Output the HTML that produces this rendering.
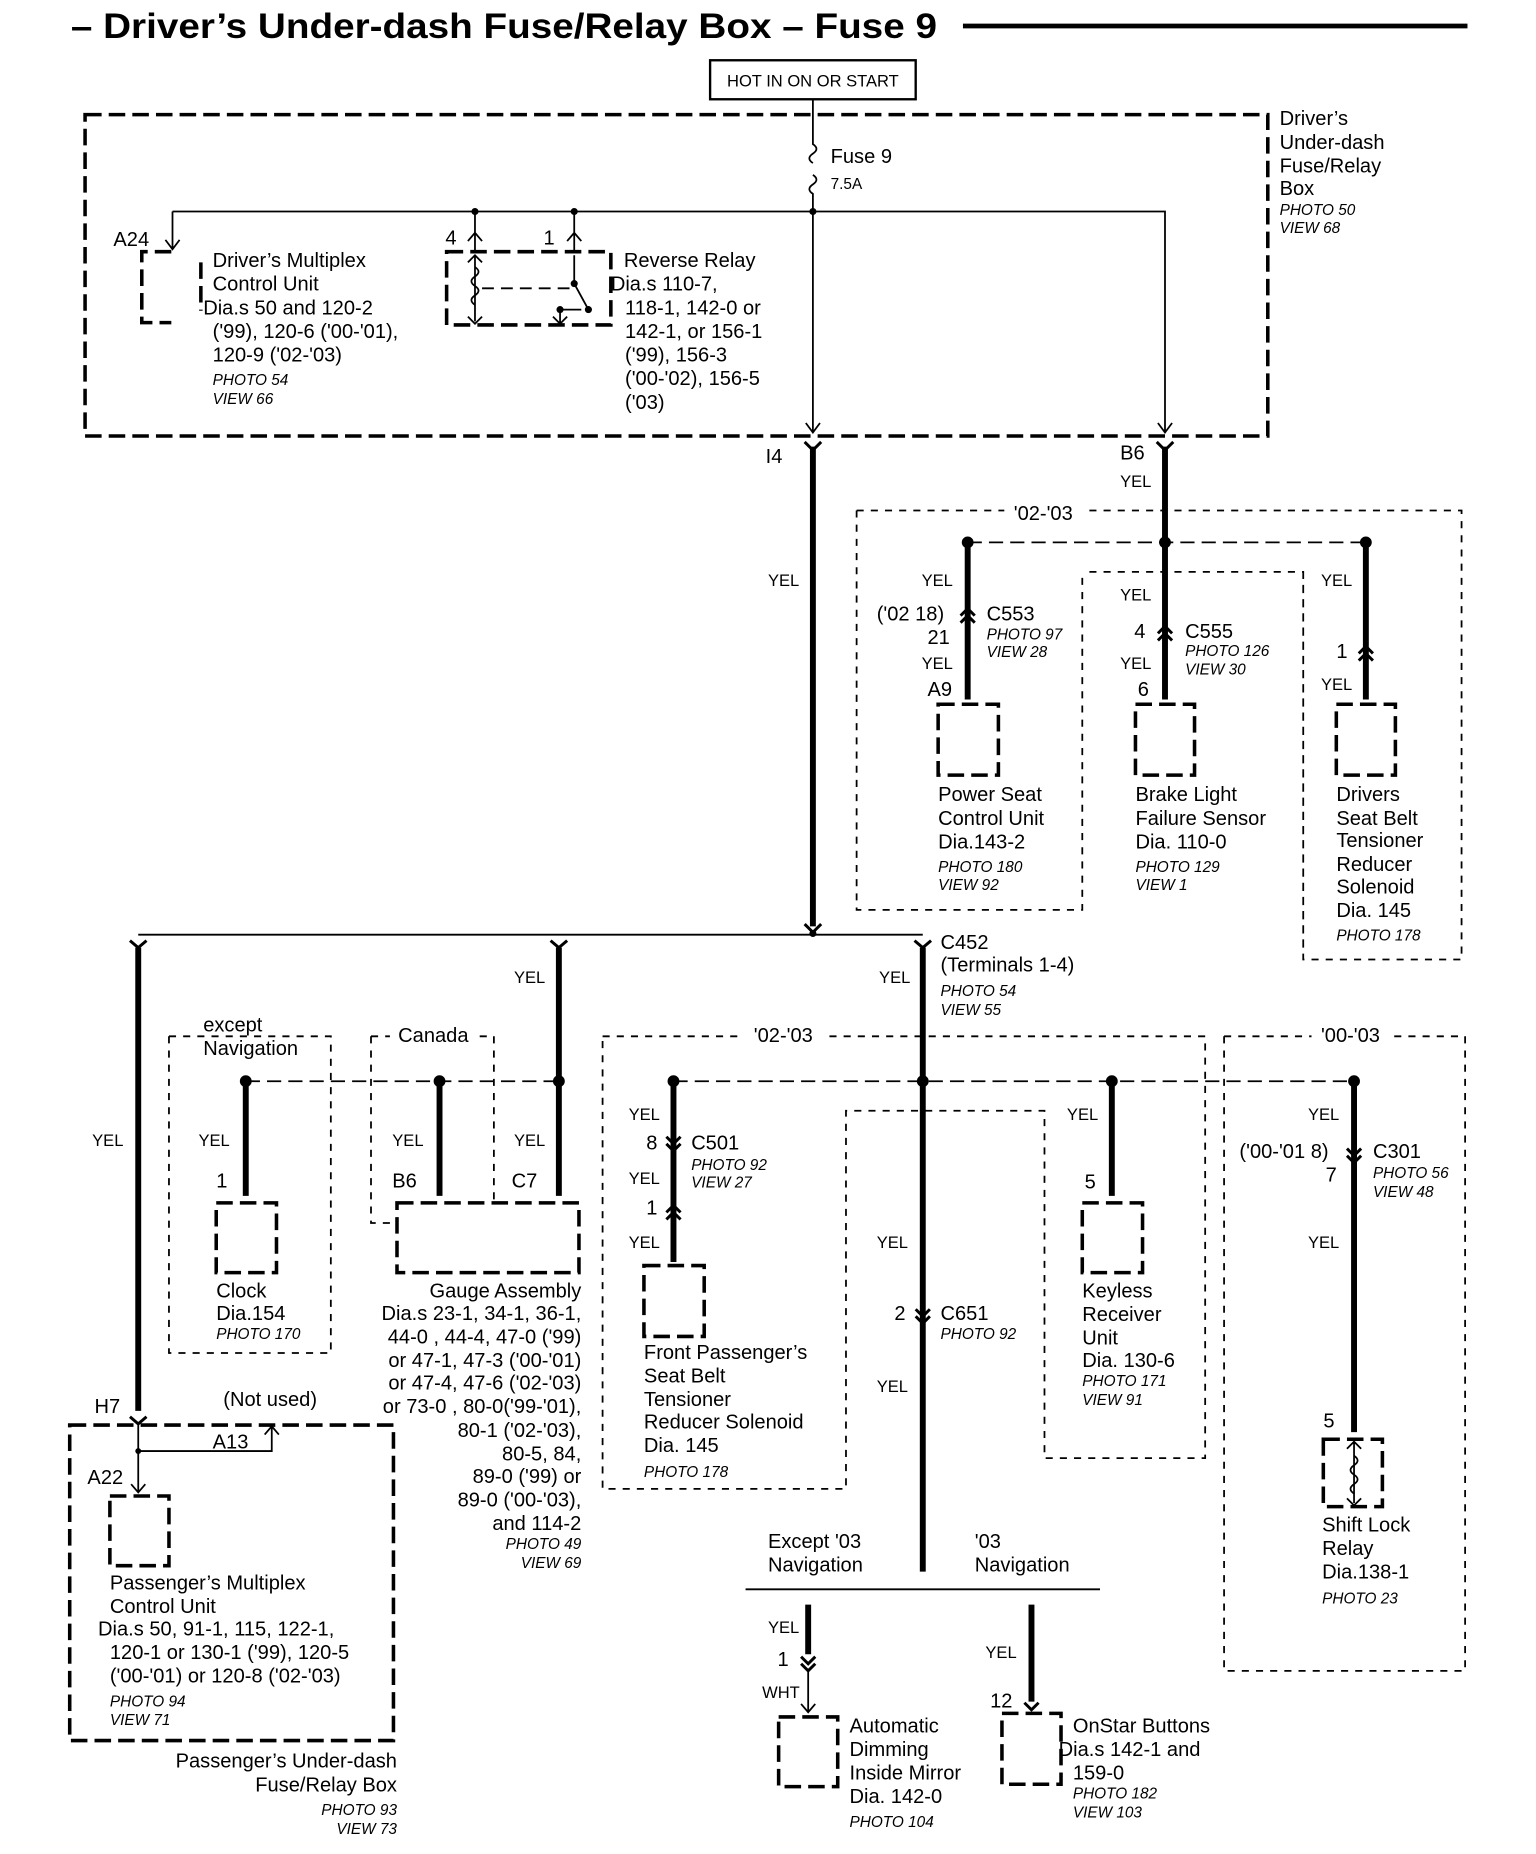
<!DOCTYPE html>
<html><head><meta charset="utf-8"><style>
html,body{margin:0;padding:0;background:#fff;width:1536px;height:1854px;overflow:hidden}
svg{display:block}
text{font-family:"Liberation Sans",sans-serif;font-size:17px;fill:#000}
.i{font-style:italic;font-size:13px}
.s{font-size:14px}
.b{fill:none;stroke:#000;stroke-width:3;stroke-dasharray:14,6}
.d{fill:none;stroke:#000;stroke-width:1.5;stroke-dasharray:6,6}
.dl{fill:none;stroke:#000;stroke-width:1.5;stroke-dasharray:12,6}
.w{stroke:#000;stroke-width:5;fill:none}
.t{stroke:#000;stroke-width:1.5;fill:none}
.c{stroke:#000;stroke-width:2.5;fill:none}
</style></head><body>
<svg width="1536" height="1854" viewBox="0 0 1300 1569" preserveAspectRatio="none" xmlns="http://www.w3.org/2000/svg">
<text x="60" y="32" textLength="733" lengthAdjust="spacingAndGlyphs" style="font-size:30px;font-weight:bold">– Driver’s Under-dash Fuse/Relay Box – Fuse 9</text>
<line x1="815" y1="22" x2="1242" y2="22" stroke="#000" stroke-width="4"/>
<rect x="601" y="51" width="174" height="33" fill="none" stroke="#000" stroke-width="2"/>
<text x="688" y="73" class="s" text-anchor="middle">HOT IN ON OR START</text>
<rect x="72" y="97" width="1001" height="272" class="b"/>
<path class="t" d="M688 84V122 q6 4 0 8 q-6 4 0 8 M688 148 q6 4 0 8 q-6 4 0 8 V365 M682 358 L688 366 L694 358"/>
<text x="703" y="138">Fuse 9</text><text x="703" y="160" class="i" style="font-style:normal">7.5A</text>
<path class="t" d="M146 179H986V365 M980 358 L986 366 L992 358 M146 179V210 M140 203 L146 211 L152 203 M402 179V212 M486 179V212 M396 204L402 197L408 204 M480 204L486 197L492 204"/>
<circle cx="402" cy="179" r="3"/><circle cx="486" cy="179" r="3"/><circle cx="688" cy="179" r="3"/>
<path class="b" d="M145 213H120V273H145 M170 222V263"/>
<rect x="378" y="213" width="139" height="62" class="b"/>
<path class="t" d="M402 216V272 M396 222L402 216L408 222 M396 268L402 274L408 268 M486 216V240 L498 262 M474 262H492 M474 262V274 M468 268L474 274L480 268"/>
<path class="t" d="M402 226 q6 4 0 8 q-6 4 0 8 q6 4 0 8 q-6 4 0 8"/>
<path class="t" d="M408 244H486" stroke-dasharray="10,6"/>
<circle cx="486" cy="240" r="3"/><circle cx="498" cy="262" r="3"/><circle cx="474" cy="262" r="3"/>
<text x="96" y="208">A24</text><text x="377" y="207">4</text><text x="460" y="207">1</text>
<text x="180" y="226">Driver’s Multiplex</text><text x="180" y="246">Control Unit</text><text x="172" y="266">Dia.s 50  and 120-2</text><text x="180" y="286">('99), 120-6 ('00-'01),</text><text x="180" y="306">120-9 ('02-'03)</text>
<text x="180" y="326" class="i">PHOTO 54</text><text x="180" y="342" class="i">VIEW 66</text>
<text x="528" y="226">Reverse Relay</text><text x="517" y="246">Dia.s 110-7,</text><text x="529" y="266">118-1, 142-0 or</text><text x="529" y="286">142-1, or 156-1</text><text x="529" y="306">('99), 156-3</text><text x="529" y="326">('00-'02), 156-5</text><text x="529" y="346">('03)</text>
<text x="1083" y="106">Driver’s</text><text x="1083" y="126">Under-dash</text><text x="1083" y="146">Fuse/Relay</text><text x="1083" y="165">Box</text>
<text x="1083" y="182" class="i">PHOTO 50</text><text x="1083" y="197" class="i">VIEW 68</text>
<path class="w" d="M688 378V784 M986 378V459"/>
<path class="c" d="M681 374L688 381L695 374 M979 374L986 381L993 374"/>
<text x="648" y="392">I4</text><text x="948" y="389">B6</text><text x="948" y="412" class="s">YEL</text>
<text x="650" y="496" class="s">YEL</text>
<path class="d" d="M725 432H850 M922 432H1237V812H1103V484H916 M725 432V770H916V484 M1103 484V812"/>
<text x="858" y="440">'02-'03</text>
<path class="dl" d="M819 459H1156"/>
<circle cx="819" cy="459" r="5"/><circle cx="986" cy="459" r="5"/><circle cx="1156" cy="459" r="5"/>
<path class="w" d="M819 459V592 M986 459V592 M1156 459V592"/>
<path class="c" d="M813 521L819 515L825 521 M813 527L819 521L825 527 M980 536L986 530L992 536 M980 542L986 536L992 542 M1150 553L1156 547L1162 553 M1150 559L1156 553L1162 559"/>
<rect x="794" y="596" width="51" height="60" class="b"/><rect x="961" y="596" width="50" height="60" class="b"/><rect x="1131" y="596" width="50" height="60" class="b"/>
<text x="780" y="496" class="s">YEL</text><text x="742" y="525">('02 18)</text><text x="785" y="545">21</text><text x="780" y="566" class="s">YEL</text><text x="785" y="589">A9</text>
<text x="835" y="525">C553</text><text x="835" y="541" class="i">PHOTO 97</text><text x="835" y="556" class="i">VIEW 28</text>
<text x="794" y="678">Power Seat</text><text x="794" y="698">Control Unit</text><text x="794" y="718">Dia.143-2</text><text x="794" y="738" class="i">PHOTO 180</text><text x="794" y="753" class="i">VIEW 92</text>
<text x="948" y="508" class="s">YEL</text><text x="960" y="540">4</text><text x="1003" y="540">C555</text><text x="1003" y="555" class="i">PHOTO 126</text><text x="1003" y="571" class="i">VIEW 30</text><text x="948" y="566" class="s">YEL</text><text x="963" y="589">6</text>
<text x="961" y="678">Brake Light</text><text x="961" y="698">Failure Sensor</text><text x="961" y="718">Dia. 110-0</text><text x="961" y="738" class="i">PHOTO 129</text><text x="961" y="753" class="i">VIEW 1</text>
<text x="1118" y="496" class="s">YEL</text><text x="1131" y="557">1</text><text x="1118" y="584" class="s">YEL</text>
<text x="1131" y="678">Drivers</text><text x="1131" y="698">Seat Belt</text><text x="1131" y="717">Tensioner</text><text x="1131" y="737">Reducer</text><text x="1131" y="756">Solenoid</text><text x="1131" y="776">Dia. 145</text><text x="1131" y="796" class="i">PHOTO 178</text>
<path class="t" d="M117 791H781"/>
<circle cx="688" cy="790" r="3"/>
<path class="c" d="M681 782L688 789L695 782 M110 796L117 802L124 796 M466 796L473 802L480 796 M774 796L781 802L788 796"/>
<path class="w" d="M117 802V1194 M473 802V1012 M781 802V1330"/>
<text x="796" y="803">C452</text><text x="796" y="822">(Terminals 1-4)</text><text x="796" y="843" class="i">PHOTO 54</text><text x="796" y="859" class="i">VIEW 55</text>
<text x="744" y="832" class="s">YEL</text><text x="435" y="832" class="s">YEL</text><text x="78" y="970" class="s">YEL</text>
<path class="d" d="M143 877H280V1145H143V877 M314 877H330 M406 877H418V1018 M314 877V1035H336"/>
<text x="172" y="873">except</text><text x="172" y="893">Navigation</text><text x="337" y="882">Canada</text>
<path class="dl" d="M208 915H473"/>
<circle cx="208" cy="915" r="5"/><circle cx="372" cy="915" r="5"/><circle cx="473" cy="915" r="5"/>
<path class="w" d="M208 915V1012 M372 915V1012"/>
<rect x="183" y="1018" width="51" height="59" class="b"/><rect x="336" y="1018" width="154" height="59" class="b"/>
<text x="168" y="970" class="s">YEL</text><text x="183" y="1005">1</text><text x="332" y="970" class="s">YEL</text><text x="332" y="1005">B6</text><text x="435" y="970" class="s">YEL</text><text x="433" y="1005">C7</text>
<text x="183" y="1098">Clock</text><text x="183" y="1117">Dia.154</text><text x="183" y="1133" class="i">PHOTO 170</text>
<g text-anchor="end"><text x="492" y="1098">Gauge Assembly</text><text x="492" y="1117">Dia.s 23-1, 34-1, 36-1,</text><text x="492" y="1137">44-0 , 44-4, 47-0  ('99)</text><text x="492" y="1157">or 47-1, 47-3 ('00-'01)</text><text x="492" y="1176">or 47-4, 47-6 ('02-'03)</text><text x="492" y="1196">or 73-0 , 80-0('99-'01),</text><text x="492" y="1216">80-1 ('02-'03),</text><text x="492" y="1236">80-5, 84,</text><text x="492" y="1255">89-0  ('99) or</text><text x="492" y="1275">89-0 ('00-'03),</text><text x="492" y="1295">and 114-2</text><text x="492" y="1311" class="i">PHOTO 49</text><text x="492" y="1327" class="i">VIEW 69</text></g>
<rect x="59" y="1206" width="274" height="267" class="b"/>
<path class="c" d="M110 1199L117 1205L124 1199"/>
<path class="t" d="M117 1206V1262 M117 1228H230V1208 M224 1214L230 1207L236 1214 M111 1256L117 1263L123 1256"/>
<circle cx="117" cy="1228" r="2.5"/>
<text x="80" y="1196">H7</text><text x="189" y="1190">(Not used)</text><text x="180" y="1226">A13</text><text x="74" y="1256">A22</text>
<rect x="93" y="1266" width="50" height="59" class="b"/>
<text x="93" y="1345">Passenger’s Multiplex</text><text x="93" y="1365">Control Unit</text><text x="83" y="1384">Dia.s 50, 91-1, 115, 122-1,</text><text x="93" y="1404">120-1 or 130-1 ('99), 120-5</text><text x="93" y="1424">('00-'01) or 120-8 ('02-'03)</text><text x="93" y="1444" class="i">PHOTO 94</text><text x="93" y="1460" class="i">VIEW 71</text>
<g text-anchor="end"><text x="336" y="1496">Passenger’s Under-dash</text><text x="336" y="1516">Fuse/Relay Box</text><text x="336" y="1536" class="i">PHOTO 93</text><text x="336" y="1552" class="i">VIEW 73</text></g>
<path class="d" d="M510 877H630 M702 877H1020V1234H884V940H716V1260H510V877"/>
<path class="d" d="M1036 877H1110 M1180 877H1240V1414H1036V877"/>
<text x="638" y="882">'02-'03</text><text x="1118" y="882">'00-'03</text>
<path class="dl" d="M570 915H1146"/>
<circle cx="570" cy="915" r="5"/><circle cx="781" cy="915" r="5"/><circle cx="941" cy="915" r="5"/><circle cx="1146" cy="915" r="5"/>
<path class="w" d="M570 915V1068 M941 915V1012 M1146 915V1212"/>
<path class="c" d="M564 962L570 968L576 962 M564 968L570 974L576 968 M564 1026L570 1020L576 1026 M564 1032L570 1026L576 1032 M775 1108L781 1114L787 1108 M775 1114L781 1120L787 1114 M1140 972L1146 978L1152 972 M1140 978L1146 984L1152 978"/>
<rect x="545" y="1071" width="51" height="60" class="b"/><rect x="916" y="1018" width="51" height="59" class="b"/><rect x="1120" y="1218" width="50" height="57" class="b"/>
<path class="t" d="M1146 1220V1272 M1140 1226L1146 1220L1152 1226 M1140 1268L1146 1274L1152 1268"/>
<path class="t" d="M1146 1232 q6 4 0 8 q-6 4 0 8 q6 4 0 8 q-6 4 0 8"/>
<text x="532" y="948" class="s">YEL</text><text x="547" y="973">8</text><text x="585" y="973">C501</text><text x="585" y="990" class="i">PHOTO 92</text><text x="585" y="1005" class="i">VIEW 27</text><text x="532" y="1002" class="s">YEL</text><text x="547" y="1028">1</text><text x="532" y="1056" class="s">YEL</text>
<text x="545" y="1150">Front Passenger’s</text><text x="545" y="1170">Seat Belt</text><text x="545" y="1190">Tensioner</text><text x="545" y="1209">Reducer Solenoid</text><text x="545" y="1229">Dia. 145</text><text x="545" y="1250" class="i">PHOTO 178</text>
<text x="742" y="1056" class="s">YEL</text><text x="757" y="1117">2</text><text x="796" y="1117">C651</text><text x="796" y="1133" class="i">PHOTO 92</text><text x="742" y="1178" class="s">YEL</text>
<text x="903" y="948" class="s">YEL</text><text x="918" y="1006">5</text>
<text x="916" y="1098">Keyless</text><text x="916" y="1118">Receiver</text><text x="916" y="1138">Unit</text><text x="916" y="1157">Dia. 130-6</text><text x="916" y="1173" class="i">PHOTO 171</text><text x="916" y="1189" class="i">VIEW 91</text>
<text x="1107" y="948" class="s">YEL</text><text x="1049" y="980">('00-'01 8)</text><text x="1122" y="1000">7</text><text x="1162" y="980">C301</text><text x="1162" y="997" class="i">PHOTO 56</text><text x="1162" y="1013" class="i">VIEW 48</text><text x="1107" y="1056" class="s">YEL</text><text x="1120" y="1208">5</text>
<text x="1119" y="1296">Shift Lock</text><text x="1119" y="1316">Relay</text><text x="1119" y="1336">Dia.138-1</text><text x="1119" y="1357" class="i">PHOTO 23</text>
<path class="t" d="M631 1345H931"/>
<text x="650" y="1310">Except '03</text><text x="650" y="1330">Navigation</text><text x="825" y="1310">'03</text><text x="825" y="1330">Navigation</text>
<path class="w" d="M684 1358V1400 M873 1358V1440"/>
<path class="c" d="M678 1402L684 1408L690 1402 M678 1408L684 1414L690 1408 M867 1441L873 1447L879 1441"/>
<path class="t" d="M684 1412V1448 M678 1442L684 1449L690 1442"/>
<rect x="659" y="1453" width="50" height="59" class="b"/><rect x="848" y="1450" width="50" height="60" class="b"/>
<text x="650" y="1382" class="s">YEL</text><text x="658" y="1410">1</text><text x="645" y="1437" class="s">WHT</text>
<text x="719" y="1466">Automatic</text><text x="719" y="1486">Dimming</text><text x="719" y="1506">Inside Mirror</text><text x="719" y="1526">Dia. 142-0</text><text x="719" y="1546" class="i">PHOTO 104</text>
<text x="834" y="1403" class="s">YEL</text><text x="838" y="1445">12</text>
<text x="908" y="1466">OnStar Buttons</text><text x="896" y="1486">Dia.s 142-1 and</text><text x="908" y="1506">159-0</text><text x="908" y="1522" class="i">PHOTO 182</text><text x="908" y="1538" class="i">VIEW 103</text>
</svg>
</body></html>
